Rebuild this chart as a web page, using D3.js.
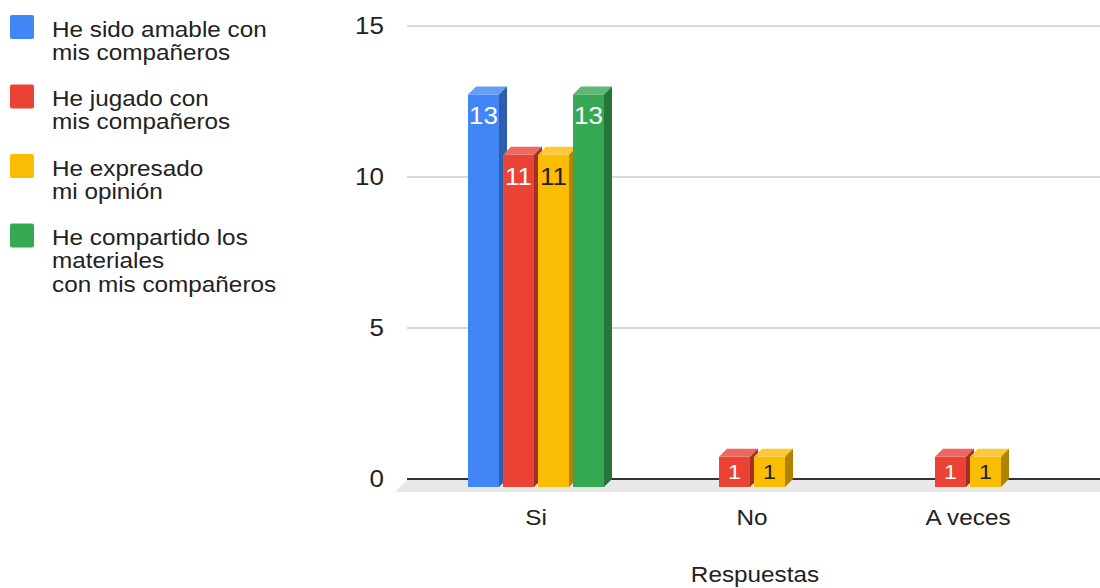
<!DOCTYPE html>
<html>
<head>
<meta charset="utf-8">
<script src="https://cdn.jsdelivr.net/npm/d3@7"></script>
<style>
  html, body { margin: 0; padding: 0; background: #fff; }
  svg { display: block; }
  text { font-family: "Liberation Sans", Arial, sans-serif; }
</style>
</head>
<body>
<svg id="chart" width="1100" height="588"></svg>
<script>
// ---- data ----
const categories = ["Si", "No", "A veces"];
const seriesNames = [
  ["He sido amable con", "mis compañeros"],
  ["He jugado con", "mis compañeros"],
  ["He expresado", "mi opinión"],
  ["He compartido los", "materiales", "con mis compañeros"]
];
const seriesColors = ["#4285F4", "#EA4335", "#FBBC04", "#34A853"];
const labelColors = ["#ffffff", "#ffffff", "#222222", "#ffffff"];
const amable = [13, 0, 0];
const jugado = [11, 1, 1];
const expresado = [11, 1, 1];
const compartido = [13, 0, 0];
const seriesValues = [amable, jugado, expresado, compartido];
const yTicks = [0, 5, 10, 15];
const xTitle = "Respuestas";

// ---- layout ----
const svg = d3.select("#chart");
const SX = 1.13;            // horizontal text stretch seen in the reference
const depth = 8;            // 3D offset
const gridX0 = 407, gridX1 = 1100;

const y = d3.scaleLinear().domain([0, 15]).range([479, 26]);
const x = d3.scaleBand().domain(categories).range([428, 1076]);
const inner = d3.scaleBand().domain(d3.range(seriesValues.length))
  .range([-70, 70]).paddingInner(0.1143).paddingOuter(0.057);

function stretchedText(g, tx, ty, str, opts) {
  return g.append("text")
    .attr("transform", `translate(${tx},${ty}) scale(${SX},1)`)
    .attr("text-anchor", opts.anchor || "middle")
    .attr("font-size", opts.size || 21)
    .attr("fill", opts.fill || "#222")
    .text(str);
}

// floor
const floorTop = y(0) + 1, floorBot = y(0) + 13;
svg.append("polygon")
  .attr("points", [[gridX0, floorTop], [gridX1, floorTop], [gridX1, floorBot], [gridX0 - 12, floorBot]].map(p => p.join(",")).join(" "))
  .attr("fill", "#e8e8e8");

// gridlines
const grid = svg.append("g");
yTicks.filter(t => t !== 0).forEach(t => {
  grid.append("line")
    .attr("x1", gridX0).attr("x2", gridX1)
    .attr("y1", y(t)).attr("y2", y(t))
    .attr("stroke", "#cccccc").attr("stroke-width", 1.6);
});
// baseline
svg.append("line")
  .attr("x1", gridX0).attr("x2", gridX1)
  .attr("y1", y(0)).attr("y2", y(0))
  .attr("stroke", "#333").attr("stroke-width", 2);

// y tick labels
const yAxisG = svg.append("g");
yTicks.forEach(t => {
  stretchedText(yAxisG, 384, y(t) + 8.3, String(t), {anchor: "end", size: 23});
});

// bars
const barsG = svg.append("g");
categories.forEach((cat, ci) => {
  const cx = x(cat) + x.bandwidth() / 2;
  seriesValues.forEach((vals, si) => {
    const v = vals[ci];
    if (!v) return;
    const c = seriesColors[si];
    const w = inner.bandwidth();
    const x0 = cx + inner(si);
    const yt = y(v) + depth;
    const yb = y(0) + depth;
    const top = d3.interpolateRgb(c, "#ffffff")(0.2);
    const side = d3.color(c).darker(1.0).formatHex();
    const g = barsG.append("g");
    g.append("rect").attr("x", x0).attr("y", yt).attr("width", w).attr("height", yb - yt).attr("fill", c);
    g.append("polygon")
      .attr("points", [[x0, yt], [x0 + depth, yt - depth], [x0 + w + depth, yt - depth], [x0 + w, yt]].map(p => p.join(",")).join(" "))
      .attr("fill", top);
    g.append("polygon")
      .attr("points", [[x0 + w, yt], [x0 + w + depth, yt - depth], [x0 + w + depth, yb - depth], [x0 + w, yb]].map(p => p.join(",")).join(" "))
      .attr("fill", side);
    const h = yb - yt;
    const fs = Math.min(23, h * 0.68);
    const by = h > 60 ? yt + 30 : yt + h / 2 + fs * 0.716 / 2;
    stretchedText(g, x0 + w / 2, by, String(v), {size: fs, fill: labelColors[si]});
  });
});

// x category labels
const xAxisG = svg.append("g");
categories.forEach(cat => {
  stretchedText(xAxisG, x(cat) + x.bandwidth() / 2, 525, cat, {size: 21.5});
});
// x title
stretchedText(svg, 755, 582, xTitle, {size: 21.5});

// legend
const legend = svg.append("g");
seriesNames.forEach((lines, i) => {
  const y0 = 15 + i * 69.5;
  legend.append("rect")
    .attr("x", 10).attr("y", y0).attr("width", 24).attr("height", 24)
    .attr("rx", 2).attr("fill", seriesColors[i]);
  lines.forEach((ln, li) => {
    stretchedText(legend, 52, y0 + 21.5 + li * 23.3, ln, {anchor: "start", size: 21.5});
  });
});
</script>
</body>
</html>
